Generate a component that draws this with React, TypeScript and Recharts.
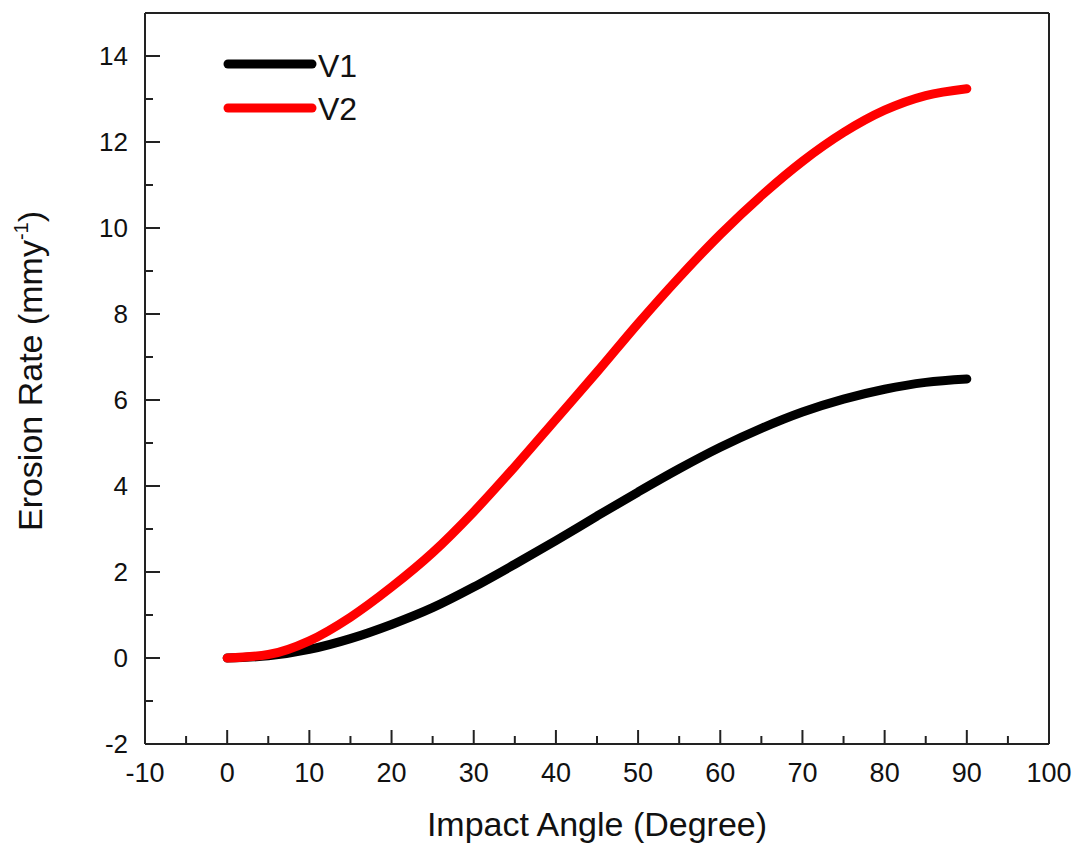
import React from 'react';
import { LineChart, Line, XAxis, YAxis, ReferenceLine } from 'recharts';

const angles = [0, 5, 10, 15, 20, 25, 30, 35, 40, 45, 50, 55, 60, 65, 70, 75, 80, 85, 90];
const v1 = [0, 0.05, 0.2, 0.45, 0.78, 1.17, 1.65, 2.18, 2.73, 3.3, 3.86, 4.4, 4.9, 5.34, 5.72, 6.02, 6.25, 6.41, 6.49];
const v2 = [0, 0.08, 0.4, 0.95, 1.65, 2.45, 3.4, 4.45, 5.55, 6.65, 7.78, 8.85, 9.85, 10.75, 11.55, 12.22, 12.74, 13.08, 13.24];

const xTicks = [-10, -5, 0, 5, 10, 15, 20, 25, 30, 35, 40, 45, 50, 55, 60, 65, 70, 75, 80, 85, 90, 95, 100];
const yTicks = [-2, -1, 0, 1, 2, 3, 4, 5, 6, 7, 8, 9, 10, 11, 12, 13, 14];

const series = [
  { key: 'v1', name: 'V1', color: '#000000' },
  { key: 'v2', name: 'V2', color: '#ff0000' },
];

const data = angles.map((a, i) => ({ angle: a, v1: v1[i], v2: v2[i] }));

const FONT = '"Liberation Sans", Arial, sans-serif';
const AXIS = '#222';

const XTick = (props: any) => {
  const { x, y, payload } = props;
  const major = payload.value % 10 === 0;
  return (
    <g>
      <line x1={x} x2={x} y1={y} y2={y - (major ? 14 : 8)} stroke={AXIS} strokeWidth={2} />
      {major && (
        <text x={x} y={y + 38} textAnchor="middle" fontSize={27} fontFamily={FONT} fill="#111">
          {payload.value}
        </text>
      )}
    </g>
  );
};

const YTick = (props: any) => {
  const { x, y, payload } = props;
  const major = payload.value % 2 === 0;
  return (
    <g>
      <line x1={x} x2={x + (major ? 15 : 8)} y1={y} y2={y} stroke={AXIS} strokeWidth={2} />
      {major && (
        <text x={x - 17} y={y + 9} textAnchor="end" fontSize={26} fontFamily={FONT} fill="#111">
          {payload.value}
        </text>
      )}
    </g>
  );
};

const XTitle = () => (
  <text x={597} y={836} textAnchor="middle" fontSize={34} fontFamily={FONT} fill="#111">
    Impact Angle (Degree)
  </text>
);

const YTitle = () => {
  const cx = 42;
  const cy = 371;
  return (
    <text x={cx} y={cy} transform={`rotate(-90 ${cx} ${cy})`} textAnchor="middle" fontSize={34} fontFamily={FONT} fill="#111">
      Erosion Rate (mmy
      <tspan fontSize={20} dy={-14}>-1</tspan>
      <tspan dy={14}>)</tspan>
    </text>
  );
};

function LegendBox() {
  return (
    <svg width={200} height={100} style={{ position: 'absolute', left: 220, top: 40 }}>
      {series.map((s, i) => (
        <g key={s.key}>
          <line x1={8} x2={92} y1={24 + i * 44} y2={24 + i * 44} stroke={s.color} strokeWidth={9} strokeLinecap="round" />
          <text x={98} y={37 + i * 43} fontSize={32} fontFamily={FONT} fill="#111">
            {s.name}
          </text>
        </g>
      ))}
    </svg>
  );
}

export default function App() {
  return (
    <div style={{ position: 'absolute', left: 0, top: 0, width: 1076, height: 845, background: '#fff' }}>
      <LineChart width={1076} height={845} data={data} margin={{ top: 13, right: 27, bottom: 71, left: 85 }}>
        <XAxis
          dataKey="angle"
          type="number"
          domain={[-10, 100]}
          ticks={xTicks}
          interval={0}
          height={30}
          tickSize={0}
          tickMargin={0}
          tickLine={false}
          tick={<XTick />}
          axisLine={{ stroke: AXIS, strokeWidth: 2 }}
          label={{ content: <XTitle /> }}
          allowDataOverflow
        />
        <YAxis
          type="number"
          domain={[-2, 15]}
          ticks={yTicks}
          interval={0}
          width={60}
          tickSize={0}
          tickMargin={0}
          tickLine={false}
          tick={<YTick />}
          axisLine={{ stroke: AXIS, strokeWidth: 2 }}
          label={{ content: <YTitle /> }}
          allowDataOverflow
        />
        <ReferenceLine y={15} stroke={AXIS} strokeWidth={2} />
        <ReferenceLine x={100} stroke={AXIS} strokeWidth={2} />
        {series.map((s) => (
          <Line
            key={s.key}
            dataKey={s.key}
            name={s.name}
            type="monotone"
            stroke={s.color}
            strokeWidth={9}
            strokeLinecap="round"
            dot={false}
            isAnimationActive={false}
          />
        ))}
      </LineChart>
      <LegendBox />
    </div>
  );
}
